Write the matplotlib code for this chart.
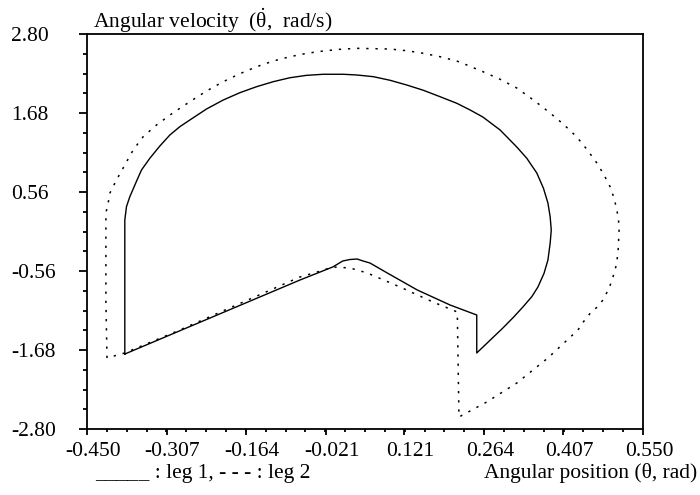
import numpy as np
import matplotlib
matplotlib.use("Agg")
import matplotlib.pyplot as plt
from matplotlib.transforms import ScaledTranslation

plt.rcParams['font.family'] = ['Liberation Serif', 'DejaVu Serif']
plt.rcParams['mathtext.fontset'] = 'custom'
plt.rcParams['mathtext.rm'] = 'Liberation Serif'
plt.rcParams['mathtext.it'] = 'Liberation Serif:italic'
plt.rcParams['axes.unicode_minus'] = False

# leg 1 (solid): angular position / angular velocity
leg1_theta = [-0.382, -0.382, -0.379, -0.373, -0.360, -0.352, -0.337, -0.319,
              -0.301, -0.283, -0.265, -0.235, -0.205, -0.175, -0.145, -0.115,
              -0.085, -0.055, -0.025, 0.011, 0.035, 0.065, 0.095, 0.125,
              0.155, 0.185, 0.215, 0.239, 0.262, 0.293, 0.323, 0.341,
              0.359, 0.371, 0.379, 0.383, 0.385, 0.383, 0.379, 0.372,
              0.361, 0.350, 0.334, 0.317, 0.298, 0.251, 0.251, 0.203,
              0.144, 0.090, 0.059, 0.046, 0.036, 0.023, 0.010, -0.008,
              -0.067, -0.382]
leg1_omega = [-1.737, 0.163, 0.352, 0.493, 0.730, 0.872, 1.038, 1.212,
              1.368, 1.486, 1.581, 1.737, 1.864, 1.968, 2.053, 2.124,
              2.180, 2.214, 2.229, 2.229, 2.219, 2.195, 2.144, 2.077,
              2.002, 1.911, 1.818, 1.723, 1.623, 1.439, 1.198, 1.038,
              0.829, 0.612, 0.404, 0.210, 0.021, -0.167, -0.404, -0.593,
              -0.787, -0.924, -1.070, -1.216, -1.368, -1.722, -1.184, -1.042,
              -0.829, -0.588, -0.447, -0.417, -0.390, -0.397, -0.418, -0.503,
              -0.688, -1.737]

# leg 2 (dotted)
leg2_theta = [-0.414, -0.416, -0.416, -0.412, -0.409, -0.397, -0.382, -0.367,
              -0.349, -0.325, -0.295, -0.265, -0.235, -0.205, -0.175, -0.145,
              -0.115, -0.085, -0.055, -0.025, 0.005, 0.035, 0.095, 0.125,
              0.155, 0.185, 0.215, 0.233, 0.262, 0.293, 0.323, 0.353,
              0.383, 0.407, 0.431, 0.449, 0.467, 0.480, 0.491, 0.498,
              0.503, 0.506, 0.507, 0.506, 0.505, 0.502, 0.496, 0.489,
              0.478, 0.467, 0.455, 0.443, 0.433, 0.379, 0.323, 0.269,
              0.219, 0.216, 0.172, 0.113, 0.054, 0.023, -0.008, -0.036,
              -0.067, -0.283, -0.382, -0.414]
leg2_omega = [-1.793, -1.000, 0.262, 0.400, 0.542, 0.730, 0.943, 1.155,
              1.344, 1.510, 1.684, 1.840, 1.992, 2.124, 2.237, 2.336,
              2.417, 2.478, 2.526, 2.559, 2.583, 2.597, 2.587, 2.563,
              2.526, 2.478, 2.417, 2.361, 2.266, 2.158, 2.034, 1.864,
              1.680, 1.520, 1.340, 1.165, 0.971, 0.801, 0.631, 0.471,
              0.305, 0.163, 0.021, -0.145, -0.305, -0.475, -0.645, -0.805,
              -0.971, -1.075, -1.160, -1.279, -1.396, -1.793, -2.148, -2.417,
              -2.630, -1.141, -0.999, -0.787, -0.588, -0.517, -0.503, -0.574,
              -0.645, -1.396, -1.722, -1.793]

x_ticks = [-0.450, -0.307, -0.164, -0.021, 0.121, 0.264, 0.407, 0.550]
x_labels = ['-0.450', '-0.307', '-0.164', '-0.021', '0.121', '0.264', '0.407', '0.550']
y_ticks = [2.80, 1.68, 0.56, -0.56, -1.68, -2.80]
y_labels = ['2.80', '1.68', '0.56', '-0.56', '-1.68', '-2.80']

fig = plt.figure(figsize=(7, 4.95), dpi=100)
ax = fig.add_axes([87/700, 1 - 429/495, 556/700, 395/495])

ax.plot(leg1_theta, leg1_omega, color='black', lw=1.0, solid_joinstyle='round')
ax.plot(leg2_theta, leg2_omega, color='black', lw=1.1, linestyle=(0, (1.5, 4.5)))

ax.set_xlim(-0.45, 0.55)
ax.set_ylim(-2.8, 2.8)

ax.set_xticks(x_ticks)
ax.set_xticklabels(x_labels)
ax.set_xticks(np.linspace(-0.45, 0.55, 29), minor=True)
ax.set_yticks(y_ticks)
ax.set_yticklabels(y_labels)
ax.set_yticks(np.linspace(-2.8, 2.8, 21), minor=True)

for s in ax.spines.values():
    s.set_linewidth(1.3)

ax.tick_params(axis='x', which='major', direction='out', length=4.3, width=1.3,
               labelsize=15.5, pad=5)
ax.tick_params(axis='x', which='minor', direction='out', length=2.2, width=1.3)
ax.tick_params(axis='y', which='major', direction='out', length=5.8, width=1.3,
               labelsize=15.5, pad=49)
ax.tick_params(axis='y', which='minor', direction='out', length=2.9, width=1.3)
for lab in ax.get_yticklabels():
    lab.set_horizontalalignment('left')
shift = ScaledTranslation(6/100, 0, fig.dpi_scale_trans)
for lab in ax.get_xticklabels():
    lab.set_transform(lab.get_transform() + shift)

fig.text(93/700, 1 - 28/495, r'Angular velocity  ($\dot{\mathrm{θ}}$,  rad/s)',
         fontsize=15.5, ha='left', va='baseline')
fig.text(95/700, 1 - 478/495, '_____ : leg 1, - - - : leg 2',
         fontsize=15.5, ha='left', va='baseline')
fig.text(697/700, 1 - 478/495, 'Angular position (θ, rad)',
         fontsize=15.5, ha='right', va='baseline')

fig.savefig('out.png', dpi=100)
